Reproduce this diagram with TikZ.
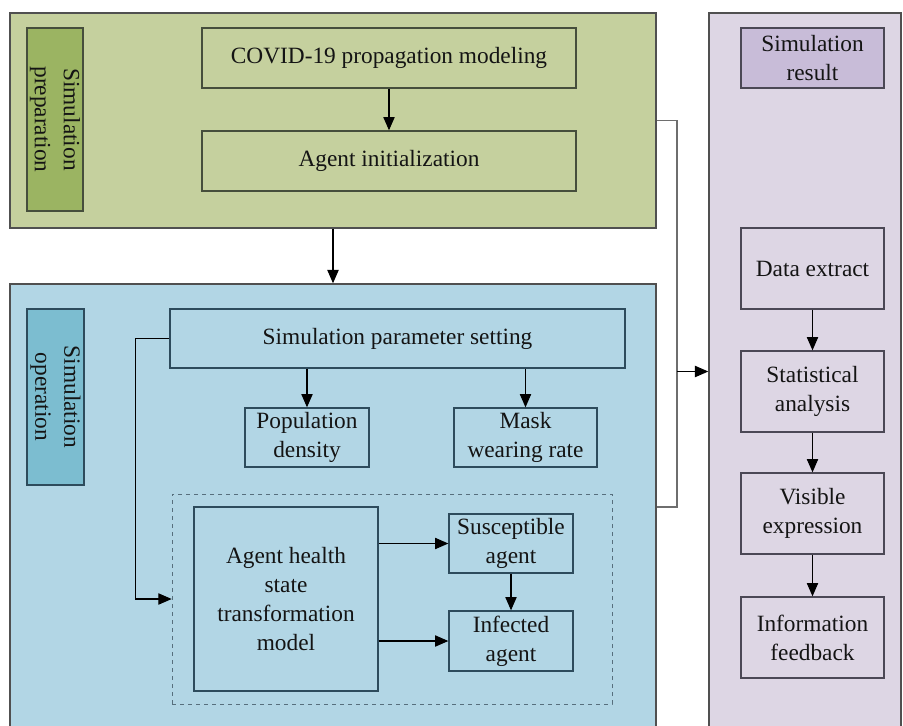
\documentclass[tikz,border=0pt]{standalone}
\usepackage{fontspec}
\setmainfont{Liberation Serif}
\usetikzlibrary{arrows.meta}
\definecolor{gpfill}{RGB}{197,208,158}
\definecolor{glfill}{RGB}{155,180,98}
\definecolor{bpfill}{RGB}{178,214,229}
\definecolor{blfill}{RGB}{124,189,208}
\definecolor{ppfill}{RGB}{221,214,228}
\definecolor{plfill}{RGB}{200,188,216}
\definecolor{gline}{RGB}{70,78,60}
\definecolor{bline}{RGB}{45,75,92}
\definecolor{pline}{RGB}{75,72,85}
\definecolor{panelline}{RGB}{80,80,80}
\definecolor{connline}{RGB}{110,110,110}
\definecolor{txt}{RGB}{20,20,20}
\tikzset{
  wh/.style 2 args={minimum width=#1*0.75pt, minimum height=#2*0.75pt},
  panel/.style={draw=panelline, line width=1.1pt, inner sep=0pt},
  box/.style={draw=#1, line width=1pt, inner sep=0pt, align=center, text=txt,
    font=\fontsize{17.5}{21.75}\selectfont},
  lbl/.style={box=#1, rotate=-90},
  arr/.style={line width=0.8pt, draw=black, -{Triangle[length=10pt, width=8.5pt]}},
  conn/.style={line width=0.8pt, draw=connline},
}
\begin{document}
\begin{tikzpicture}[x=0.75pt, y=-0.75pt]
\useasboundingbox (0,0) rectangle (903,725);
\clip (0,0) rectangle (903,725);
\fill[white] (0,0) rectangle (903,725);
% panels
\node[panel, fill=gpfill, wh={646}{215}] (gpanel) at (333,120.5) {};
\node[panel, fill=bpfill, wh={646}{446}] (bpanel) at (333,507) {};
\node[panel, fill=ppfill, wh={192}{717}] (ppanel) at (805,371.5) {};
% green panel
\node[lbl=gline, fill=glfill, wh={183}{56}] (glabel) at (55,119.5) {Simulation\\preparation};
\node[box=gline, fill=gpfill, wh={374}{60}] (covid) at (389,58) {COVID-19 propagation modeling};
\node[box=gline, fill=gpfill, wh={374}{60}] (init) at (389,161) {Agent initialization};
% blue panel
\node[lbl=bline, fill=blfill, wh={176}{57}] (blabel) at (55.5,397) {Simulation\\operation};
\node[box=bline, fill=bpfill, wh={455}{59}] (param) at (397.5,338.5) {Simulation parameter setting};
\node[box=bline, fill=bpfill, wh={124}{59}] (pop) at (307,437.5) {Population\\density};
\node[box=bline, fill=bpfill, wh={143}{59}] (mask) at (525.5,437.5) {Mask\\wearing rate};
\node[draw=bline!80, dashed, line width=0.5pt, wh={440}{210}, inner sep=0pt] (dash) at (392,599) {};
\node[box=bline, fill=bpfill, wh={184}{184}] (health) at (286,599) {Agent health\\state\\transformation\\model};
\node[box=bline, fill=bpfill, wh={124}{59}] (sus) at (511,543.5) {Susceptible\\agent};
\node[box=bline, fill=bpfill, wh={124}{60}] (inf) at (511,641) {Infected\\agent};
% purple panel
\node[box=pline, fill=plfill, wh={143}{60}] (res) at (812.5,58) {Simulation\\result};
\node[box=pline, fill=ppfill, wh={143}{81}] (data) at (812.5,268.5) {Data extract};
\node[box=pline, fill=ppfill, wh={143}{81}] (stat) at (812.5,391.5) {Statistical\\analysis};
\node[box=pline, fill=ppfill, wh={143}{81}] (vis) at (812.5,513.5) {Visible\\expression};
\node[box=pline, fill=ppfill, wh={143}{81}] (info) at (812.5,637.5) {Information\\feedback};
% connectors
\draw[arr] (covid) -- (init);
\draw[arr] (gpanel.south) -- (bpanel.north);
\draw[arr] (pop.north |- param.south) -- (pop.north);
\draw[arr] (mask.north |- param.south) -- (mask.north);
\draw[arr] (param.west) -- ++(-34,0) |- (dash.west);
\draw[arr] (health.east |- sus.west) -- (sus.west);
\draw[arr] (health.east |- inf.west) -- (inf.west);
\draw[arr] (sus) -- (inf);
\coordinate (junc) at (677,371.5);
\draw[conn] (gpanel.east) -| (junc) |- (bpanel.east);
\draw[arr] (junc) -- (ppanel.west);
\draw[arr] (data) -- (stat);
\draw[arr] (stat) -- (vis);
\draw[arr] (vis) -- (info);
\end{tikzpicture}
\end{document}
